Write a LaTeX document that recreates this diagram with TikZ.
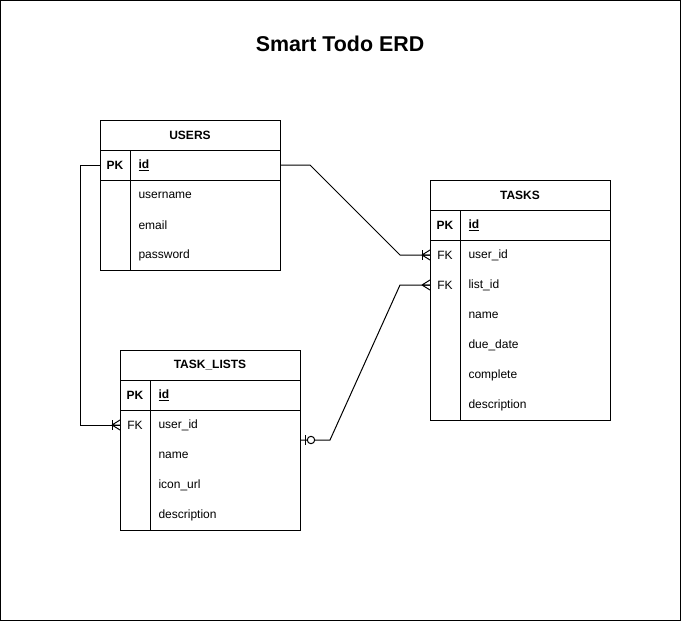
\documentclass[tikz,border=0pt]{standalone}
\usepackage{fontspec}
\setmainfont{Liberation Sans}
\usetikzlibrary{positioning}

\tikzset{
  tblhead/.style={draw, minimum width=180pt, minimum height=30pt, inner sep=0pt, outer sep=0pt, font=\bfseries\fontsize{12}{14}\selectfont},
  rowbox/.style={draw, minimum width=180pt, minimum height=30pt, inner sep=0pt, outer sep=0pt},
  keytxt/.style={inner sep=0pt, font=\fontsize{12}{14}\selectfont},
  fieldtxt/.style={anchor=west, inner sep=0pt, font=\fontsize{12}{14}\selectfont},
  rel/.style={draw, line width=1pt},
  crowmany/.pic={\draw[line width=1pt] (-8,0) -- (0,-5) (-8,0) -- (0,0) (-8,0) -- (0,5);},
  crowone/.pic={\draw[line width=1pt] (-8,-5) -- (-8,5);},
  zeroone/.pic={\draw[line width=1pt] (-5,-5) -- (-5,5); \draw[line width=1pt, fill=white] (-11,0) circle (3.7);}
}

\begin{document}
\begin{tikzpicture}[x=1pt, y=-1pt, line width=1pt]
  \useasboundingbox (0,0) rectangle (681,621);
  \draw (0.5,0.5) rectangle (680.5,620.5);

  \node[font=\bfseries\fontsize{21.4}{26}\selectfont] (title) at (340,44) {Smart Todo ERD};

  % USERS
  \node[tblhead] (users) at (190,135) {USERS};
  \node[rowbox, below=0pt of users] (users-pk) {};
  \node[rowbox, minimum height=90pt, below=0pt of users-pk] (users-body) {};
  \draw ([xshift=30pt]users-pk.north west) -- ([xshift=30pt]users-body.south west);
  \node[keytxt, font=\bfseries\fontsize{12}{14}\selectfont] (users-key) at (115,165) {PK};
  \node[fieldtxt, font=\bfseries\fontsize{12}{14}\selectfont] (users-id) at (138,165) {\underline{id}};
  \foreach \f [count=\i] in {username,email,password}
    \node[fieldtxt] (users-f\i) at (138,{165+30*\i}) {\f};

  % TASKS
  \node[tblhead] (tasks) at (520,195) {TASKS};
  \node[rowbox, below=0pt of tasks] (tasks-pk) {};
  \node[rowbox, minimum height=180pt, below=0pt of tasks-pk] (tasks-body) {};
  \draw ([xshift=30pt]tasks-pk.north west) -- ([xshift=30pt]tasks-body.south west);
  \node[keytxt, font=\bfseries\fontsize{12}{14}\selectfont] (tasks-key) at (445,225) {PK};
  \node[fieldtxt, font=\bfseries\fontsize{12}{14}\selectfont] (tasks-id) at (468,225) {\underline{id}};
  \foreach \f [count=\i] in {user\_id,list\_id,name,due\_date,complete,description}
    \node[fieldtxt] (tasks-f\i) at (468,{225+30*\i}) {\f};
  \node[keytxt] (tasks-fk1) at (445,255) {FK};
  \node[keytxt] (tasks-fk2) at (445,285) {FK};
  \coordinate (tasks-in1) at (430,255);
  \coordinate (tasks-in2) at (430,285);

  % TASK_LISTS
  \node[tblhead] (lists) at (210,365) {TASK\_LISTS};
  \node[rowbox, below=0pt of lists] (lists-pk) {};
  \node[rowbox, minimum height=120pt, below=0pt of lists-pk] (lists-body) {};
  \draw ([xshift=30pt]lists-pk.north west) -- ([xshift=30pt]lists-body.south west);
  \node[keytxt, font=\bfseries\fontsize{12}{14}\selectfont] (lists-key) at (135,395) {PK};
  \node[fieldtxt, font=\bfseries\fontsize{12}{14}\selectfont] (lists-id) at (158,395) {\underline{id}};
  \foreach \f [count=\i] in {user\_id,name,icon\_url,description}
    \node[fieldtxt] (lists-f\i) at (158,{395+30*\i}) {\f};
  \node[keytxt] (lists-fk1) at (135,425) {FK};
  \coordinate (lists-in) at (120,425);
  \coordinate (lists-out) at (300,440);

  % relations
  \draw[rel] (users-pk.east) -- ++(30,0) -- ([xshift=-30pt]tasks-in1) -- (tasks-in1);
  \pic at (tasks-in1) {crowmany};
  \pic at (tasks-in1) {crowone};

  \draw[rel] (users-pk.west) -- ++(-20,0) |- (lists-in);
  \pic at (lists-in) {crowmany};
  \pic at (lists-in) {crowone};

  \draw[rel] (lists-out) -- ++(30,0) -- ([xshift=-30pt]tasks-in2) -- (tasks-in2);
  \pic at (tasks-in2) {crowmany};
  \pic[xscale=-1] at (lists-out) {zeroone};
\end{tikzpicture}
\end{document}
